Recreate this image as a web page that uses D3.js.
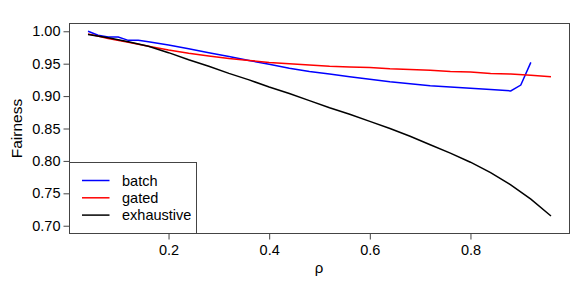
<!DOCTYPE html>
<html>
<head>
<meta charset="utf-8">
<script src="https://cdn.jsdelivr.net/npm/d3@7"></script>
<style>
  body { margin: 0; background: #fff; }
  text { font-family: "Liberation Sans", Arial, sans-serif; fill: #000; }
  .frame { fill: none; stroke: #444; stroke-width: 1; }
  .tick line { stroke: #444; }
  .series { fill: none; stroke-width: 1.5; }
</style>
</head>
<body>
<div id="chart"></div>
<script>
// series data
var rhoBatch = [0.04, 0.06, 0.08, 0.10, 0.12, 0.14, 0.16, 0.20, 0.24, 0.28, 0.32, 0.36, 0.40,
                0.44, 0.48, 0.52, 0.56, 0.60, 0.64, 0.68, 0.72, 0.76, 0.80, 0.84, 0.88, 0.90, 0.92];
var batch = [1.000, 0.994, 0.991, 0.991, 0.986, 0.986, 0.984, 0.979, 0.973, 0.967, 0.961, 0.955, 0.949,
             0.943, 0.938, 0.934, 0.930, 0.926, 0.922, 0.919, 0.916, 0.914, 0.912, 0.910, 0.908, 0.917, 0.952];

var rho = [0.04, 0.08, 0.12, 0.16, 0.20, 0.24, 0.28, 0.32, 0.36, 0.40, 0.44, 0.48,
           0.52, 0.56, 0.60, 0.64, 0.68, 0.72, 0.76, 0.80, 0.84, 0.88, 0.92, 0.96];
var gated = [0.996, 0.989, 0.983, 0.977, 0.971, 0.966, 0.962, 0.958, 0.955, 0.952, 0.950, 0.948,
             0.946, 0.945, 0.944, 0.942, 0.941, 0.940, 0.938, 0.937, 0.935, 0.934, 0.932, 0.930];
var exhaustive = [0.995, 0.990, 0.984, 0.977, 0.967, 0.956, 0.946, 0.935, 0.925, 0.914, 0.904, 0.893,
                  0.882, 0.872, 0.861, 0.850, 0.838, 0.825, 0.812, 0.798, 0.782, 0.763, 0.741, 0.715];

var xTicks = [0.2, 0.4, 0.6, 0.8];
var yTicks = [0.70, 0.75, 0.80, 0.85, 0.90, 0.95, 1.00];
var seriesNames = ["batch", "gated", "exhaustive"];
var seriesColors = ["#0000ff", "#ff0000", "#000000"];

function drawChart () {
    var width = 581,
        height = 291,
        left = 69.5, right = 569.5, top = 23.5, bottom = 233.5;

    var svg = d3.select("#chart").append("svg")
        .attr("width", width)
        .attr("height", height);

    // R-style 4% padding around data range
    var xl = d3.scaleLinear()
        .domain([0.04 - 0.92 * 0.04, 0.96 + 0.92 * 0.04])
        .range([left, right]);
    var yl = d3.scaleLinear()
        .domain([0.7 - 0.3 * 0.04, 1.0 + 0.3 * 0.04])
        .range([bottom, top]);

    var linefun = d3.line()
        .x(function(d) { return xl(d[0]); })
        .y(function(d) { return yl(d[1]); });

    var lines = [
        d3.zip(rhoBatch, batch),
        d3.zip(rho, gated),
        d3.zip(rho, exhaustive)
    ];

    svg.selectAll(".series")
        .data(lines)
        .enter()
            .append("path").attr("class", "series")
            .attr("stroke", function(d, i) { return seriesColors[i]; })
            .attr("d", linefun);

    // axes
    var xAxis = svg.append("g")
        .attr("transform", "translate(0," + bottom + ")")
        .call(d3.axisBottom(xl).tickValues(xTicks).tickSize(6).tickPadding(5)
            .tickFormat(d3.format(".1f")));
    var yAxis = svg.append("g")
        .attr("transform", "translate(" + left + ",0)")
        .call(d3.axisLeft(yl).tickValues(yTicks).tickSize(6).tickPadding(3)
            .tickFormat(d3.format(".2f")));
    xAxis.select(".domain").remove();
    yAxis.select(".domain").remove();
    svg.selectAll(".tick text").attr("font-size", "14.5px")
        .attr("font-family", "'Liberation Sans', Arial, sans-serif");

    svg.append("rect").attr("class", "frame")
        .attr("x", left).attr("y", top)
        .attr("width", right - left).attr("height", bottom - top);

    svg.append("text")
        .attr("x", (left + right) / 2 - 0.5)
        .attr("y", 273)
        .attr("text-anchor", "middle")
        .attr("font-size", "15px")
        .text("ρ");

    svg.append("text")
        .attr("transform", "translate(22," + ((top + bottom) / 2) + ") rotate(-90)")
        .attr("text-anchor", "middle")
        .attr("font-size", "15.5px")
        .text("Fairness");

    // legend
    var legend = svg.append("g");
    legend.append("rect").attr("class", "frame")
        .attr("x", left).attr("y", 162.5)
        .attr("width", 127).attr("height", bottom - 162.5)
        .attr("fill", "#fff");

    var items = legend.selectAll(".item")
        .data(seriesNames)
        .enter()
            .append("g").attr("class", "item")
            .attr("transform", function(d, i) { return "translate(0," + (180.5 + i * 17.3) + ")"; });
    items.append("line")
        .attr("x1", 82).attr("x2", 109.5)
        .attr("stroke", function(d, i) { return seriesColors[i]; })
        .attr("stroke-width", 1.5);
    items.append("text")
        .attr("x", 122)
        .attr("dy", "0.35em")
        .attr("font-size", "14.5px")
        .text(function(d) { return d; });
}

drawChart();
</script>
</body>
</html>
